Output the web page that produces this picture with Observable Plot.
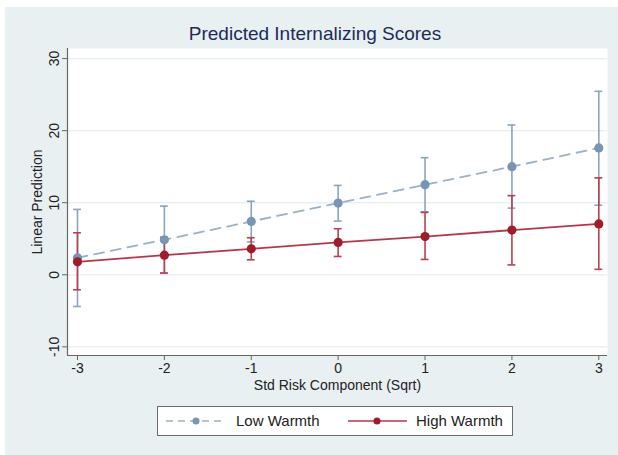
<!DOCTYPE html>
<html>
<head>
<meta charset="utf-8">
<script src="https://cdn.jsdelivr.net/npm/d3@7"></script>
<script src="https://cdn.jsdelivr.net/npm/@observablehq/plot@0.6"></script>
<style>
  html, body { margin: 0; padding: 0; background: #fff; }
  #wrap { position: relative; width: 618px; height: 455px; overflow: hidden; background: #fff;
          font-family: "Liberation Sans", Arial, sans-serif; }
  #bg { position: absolute; left: 5px; top: 7px; right: 0; bottom: 0; background: #e9f0f2; }
  #title { position: absolute; left: 0; width: 630px; top: 23px; text-align: center;
           font-size: 19px; color: #1c2b5a; }
  #chart { position: absolute; left: 0; top: 44px; }
  #legend { position: absolute; left: 157px; top: 406px; width: 354px; height: 28px;
            background: #fff; border: 1px solid #6b6b6b; }
  .lg { position: absolute; top: 0; height: 28px; line-height: 28px; font-size: 15px; color: #222; }
  .lg svg { position: absolute; top: 0; }
</style>
</head>
<body>
<div id="wrap">
  <div id="bg"></div>
  <div id="title">Predicted Internalizing Scores</div>
  <div id="chart"></div>
  <div id="legend">
    <div class="lg" style="left:6px;width:170px;">
      <svg width="64" height="28"><line x1="2" x2="62" y1="14" y2="14" stroke="#9ab1c6" stroke-width="1.6" stroke-dasharray="7,5"/><circle cx="32" cy="14" r="3.5" fill="#7895b4"/></svg>
      <span style="position:absolute;left:72px;white-space:nowrap;">Low Warmth</span>
    </div>
    <div class="lg" style="left:189px;width:170px;">
      <svg width="62" height="28"><line x1="1" x2="60" y1="14" y2="14" stroke="#b3394a" stroke-width="1.6"/><circle cx="30" cy="14" r="3.5" fill="#9e1d2d"/></svg>
      <span style="position:absolute;left:69px;white-space:nowrap;">High Warmth</span>
    </div>
  </div>
</div>
<script>
// Data
const riskValues = [-3, -2, -1, 0, 1, 2, 3];
const lowFit  = [2.36, 4.86, 7.40, 9.95, 12.50, 15.00, 17.60];
const lowLo   = [-4.40, 0.20, 4.55, 7.45, 8.75, 9.25, 9.65];
const lowHi   = [9.07, 9.53, 10.20, 12.40, 16.25, 20.78, 25.46];
const highFit = [1.80, 2.72, 3.60, 4.49, 5.30, 6.20, 7.06];
const highLo  = [-2.08, 0.25, 2.08, 2.54, 2.13, 1.37, 0.76];
const highHi  = [5.83, 5.20, 5.14, 6.39, 8.65, 10.98, 13.45];
const yTicks = [-10, 0, 10, 20, 30];
const xTicks = [-3, -2, -1, 0, 1, 2, 3];

const low = riskValues.map((x, i) => ({x, y: lowFit[i], lo: lowLo[i], hi: lowHi[i]}));
const high = riskValues.map((x, i) => ({x, y: highFit[i], lo: highLo[i], hi: highHi[i]}));
const cap = 0.045;
const xMin = -3.115, yMin = -11.2;

const lowCI = "#8ca4bd", lowLine = "#9ab1c6", lowDot = "#7895b4";
const highCI = "#b8404f", highLine = "#b3394a", highDot = "#9e1d2d";

function ciMarks(data, color) {
  return [
    Plot.ruleX(data, {x: "x", y1: "lo", y2: "hi", stroke: color, strokeWidth: 1.6}),
    Plot.ruleY(data, {y: "hi", x1: d => d.x - cap, x2: d => d.x + cap, stroke: color, strokeWidth: 1.6}),
    Plot.ruleY(data, {y: "lo", x1: d => d.x - cap, x2: d => d.x + cap, stroke: color, strokeWidth: 1.6})
  ];
}

const fmt = d => String(d);

const chart = Plot.plot({
  width: 618,
  height: 352,
  marginTop: 4,
  marginBottom: 41,
  marginLeft: 67,
  marginRight: 11,
  style: {background: "transparent", fontFamily: "'Liberation Sans', Arial, sans-serif", fontSize: "14px", color: "#222"},
  x: {domain: [xMin, 3.1]},
  y: {domain: [yMin, 31.4]},
  marks: [
    Plot.frame({fill: "white", stroke: "none"}),
    Plot.gridY(yTicks, {stroke: "#e4edf0", strokeOpacity: 1, strokeWidth: 1.2}),
    Plot.axisY(yTicks, {tickRotate: -90, tickSize: 5, tickPadding: 4, stroke: "#666", tickFormat: fmt,
      label: "Linear Prediction", labelAnchor: "center", labelArrow: "none", labelOffset: 35, fontSize: 14}),
    Plot.axisX(xTicks, {tickSize: 5, tickPadding: 3, stroke: "#666", tickFormat: fmt,
      label: "Std Risk Component (Sqrt)", labelAnchor: "center", labelArrow: "none", labelOffset: 34, fontSize: 14}),
    Plot.ruleX([xMin], {stroke: "#666", strokeWidth: 1.2}),
    Plot.ruleY([yMin], {stroke: "#666", strokeWidth: 1.2}),
    ...ciMarks(low, lowCI),
    ...ciMarks(high, highCI),
    Plot.line(low, {x: "x", y: "y", stroke: lowLine, strokeWidth: 1.8, strokeDasharray: "10,7"}),
    Plot.dot(low, {x: "x", y: "y", r: 4.6, fill: lowDot, stroke: "none"}),
    Plot.line(high, {x: "x", y: "y", stroke: highLine, strokeWidth: 1.8}),
    Plot.dot(high, {x: "x", y: "y", r: 4.6, fill: highDot, stroke: "none"})
  ]
});
document.getElementById("chart").appendChild(chart);
</script>
</body>
</html>
